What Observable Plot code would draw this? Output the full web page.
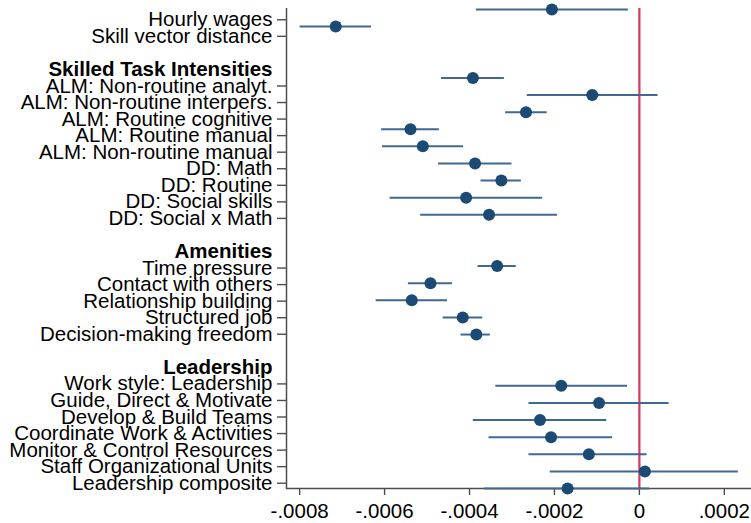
<!DOCTYPE html>
<html>
<head>
<meta charset="utf-8">
<script src="https://cdn.jsdelivr.net/npm/d3@7"></script>
<script src="https://cdn.jsdelivr.net/npm/@observablehq/plot@0.6"></script>
<style>
  html, body { margin: 0; padding: 0; background: #fff; }
  #wrap { position: relative; width: 751px; height: 523px; overflow: hidden; }
  #wrap svg { position: absolute; left: 0; top: 0; background: transparent; }
</style>
</head>
<body>
<div id="wrap"></div>
<script>
const rowLabels = [
  "Hourly wages", "Skill vector distance", "",
  "Skilled Task Intensities",
  "ALM: Non-routine analyt.", "ALM: Non-routine interpers.", "ALM: Routine cognitive",
  "ALM: Routine manual", "ALM: Non-routine manual", "DD: Math", "DD: Routine",
  "DD: Social skills", "DD: Social x Math", "",
  "Amenities",
  "Time pressure", "Contact with others", "Relationship building", "Structured job",
  "Decision-making freedom", "",
  "Leadership",
  "Work style: Leadership", "Guide, Direct & Motivate", "Develop & Build Teams",
  "Coordinate Work & Activities", "Monitor & Control Resources",
  "Staff Organizational Units", "Leadership composite"
];
const headerLabels = ["Skilled Task Intensities", "Amenities", "Leadership"];

const estimates = [
  -0.000206, -0.000715, null, null,
  -0.000392, -0.000111, -0.000267, -0.000539, -0.000510, -0.000387, -0.000325, -0.000408, -0.000354, null, null,
  -0.000335, -0.000492, -0.000536, -0.000416, -0.000384, null, null,
  -0.000184, -0.000095, -0.000234, -0.000208, -0.000119, 0.000013, -0.000169
];
const ciLow = [
  -0.000384, -0.000799, null, null,
  -0.000466, -0.000264, -0.000315, -0.000607, -0.000605, -0.000473, -0.000373, -0.000587, -0.000515, null, null,
  -0.000380, -0.000544, -0.000620, -0.000462, -0.000420, null, null,
  -0.000338, -0.000260, -0.000391, -0.000354, -0.000260, -0.000210, -0.000365
];
const ciHigh = [
  -0.000026, -0.000631, null, null,
  -0.000318, 0.000044, -0.000217, -0.000471, -0.000414, -0.000300, -0.000278, -0.000228, -0.000193, null, null,
  -0.000290, -0.000440, -0.000452, -0.000369, -0.000351, null, null,
  -0.000028, 0.000070, -0.000077, -0.000063, 0.000018, 0.000233, 0.000024
];
const xTickValues = [-0.0008, -0.0006, -0.0004, -0.0002, 0, 0.0002];
const xTickLabels = ["-.0008", "-.0006", "-.0004", "-.0002", "0", ".0002"];

const rows = rowLabels.map((label, i) => ({i, label, est: estimates[i], lo: ciLow[i], hi: ciHigh[i]}));
const itemRows = rows.filter(r => r.label !== "" && !headerLabels.includes(r.label)).map(r => r.i);
const headerRows = rows.filter(r => headerLabels.includes(r.label)).map(r => r.i);
const points = rows.filter(r => r.est !== null);

const W = 751, H = 523;
const xDomain = [-0.000831, 0.000264];
const font = "'Liberation Sans', Arial, Helvetica, sans-serif";
const FS = 20.5;
const AX = "#4d4d4d";
const common = {
  width: W, height: H,
  marginLeft: 286, marginRight: 0, marginBottom: 35,
  style: {fontFamily: font, fontSize: FS + "px", background: "transparent", color: "black", overflow: "visible"}
};

const axesPlot = Plot.plot({
  ...common,
  marginTop: 8,
  x: {domain: xDomain, axis: null},
  y: {type: "point", domain: d3.range(rowLabels.length), padding: 0.5, round: false, axis: null},
  marks: [
    Plot.ruleX([0], {stroke: "#d7375c", strokeWidth: 2.2}),
    Plot.ruleX([xDomain[0]], {stroke: AX, strokeWidth: 1.5}),
    Plot.frame({anchor: "bottom", stroke: AX, strokeWidth: 1.5}),
    Plot.axisX(xTickValues, {
      tickSize: 7, tickPadding: 8, stroke: AX, strokeWidth: 1.4,
      fill: "black", fontSize: FS, label: null,
      tickFormat: d => xTickLabels[xTickValues.indexOf(d)]
    }),
    Plot.axisY(itemRows, {
      tickSize: 9, tickPadding: 5, stroke: AX, strokeWidth: 1.4,
      fill: "black", fontSize: FS, label: null, dy: 3,
      tickFormat: i => rowLabels[i]
    }),
    Plot.axisY(headerRows, {
      tickSize: 0, tickPadding: 14, fill: "black", fontSize: FS, fontWeight: "bold", label: null, dy: 3,
      tickFormat: i => rowLabels[i]
    })
  ]
});

const dotPlot = Plot.plot({
  ...common,
  marginTop: 9,
  x: {domain: xDomain, axis: null},
  y: {type: "point", domain: d3.range(rowLabels.length), padding: 0, round: false, axis: null},
  marks: [
    Plot.ruleY(points, {y: "i", x1: "lo", x2: "hi", stroke: "#3f6892", strokeWidth: 2}),
    Plot.dot(points, {y: "i", x: "est", r: 6, fill: "#1b4a74", stroke: "none"})
  ]
});

const wrap = document.getElementById("wrap");
wrap.appendChild(axesPlot);
wrap.appendChild(dotPlot);
</script>
</body>
</html>
